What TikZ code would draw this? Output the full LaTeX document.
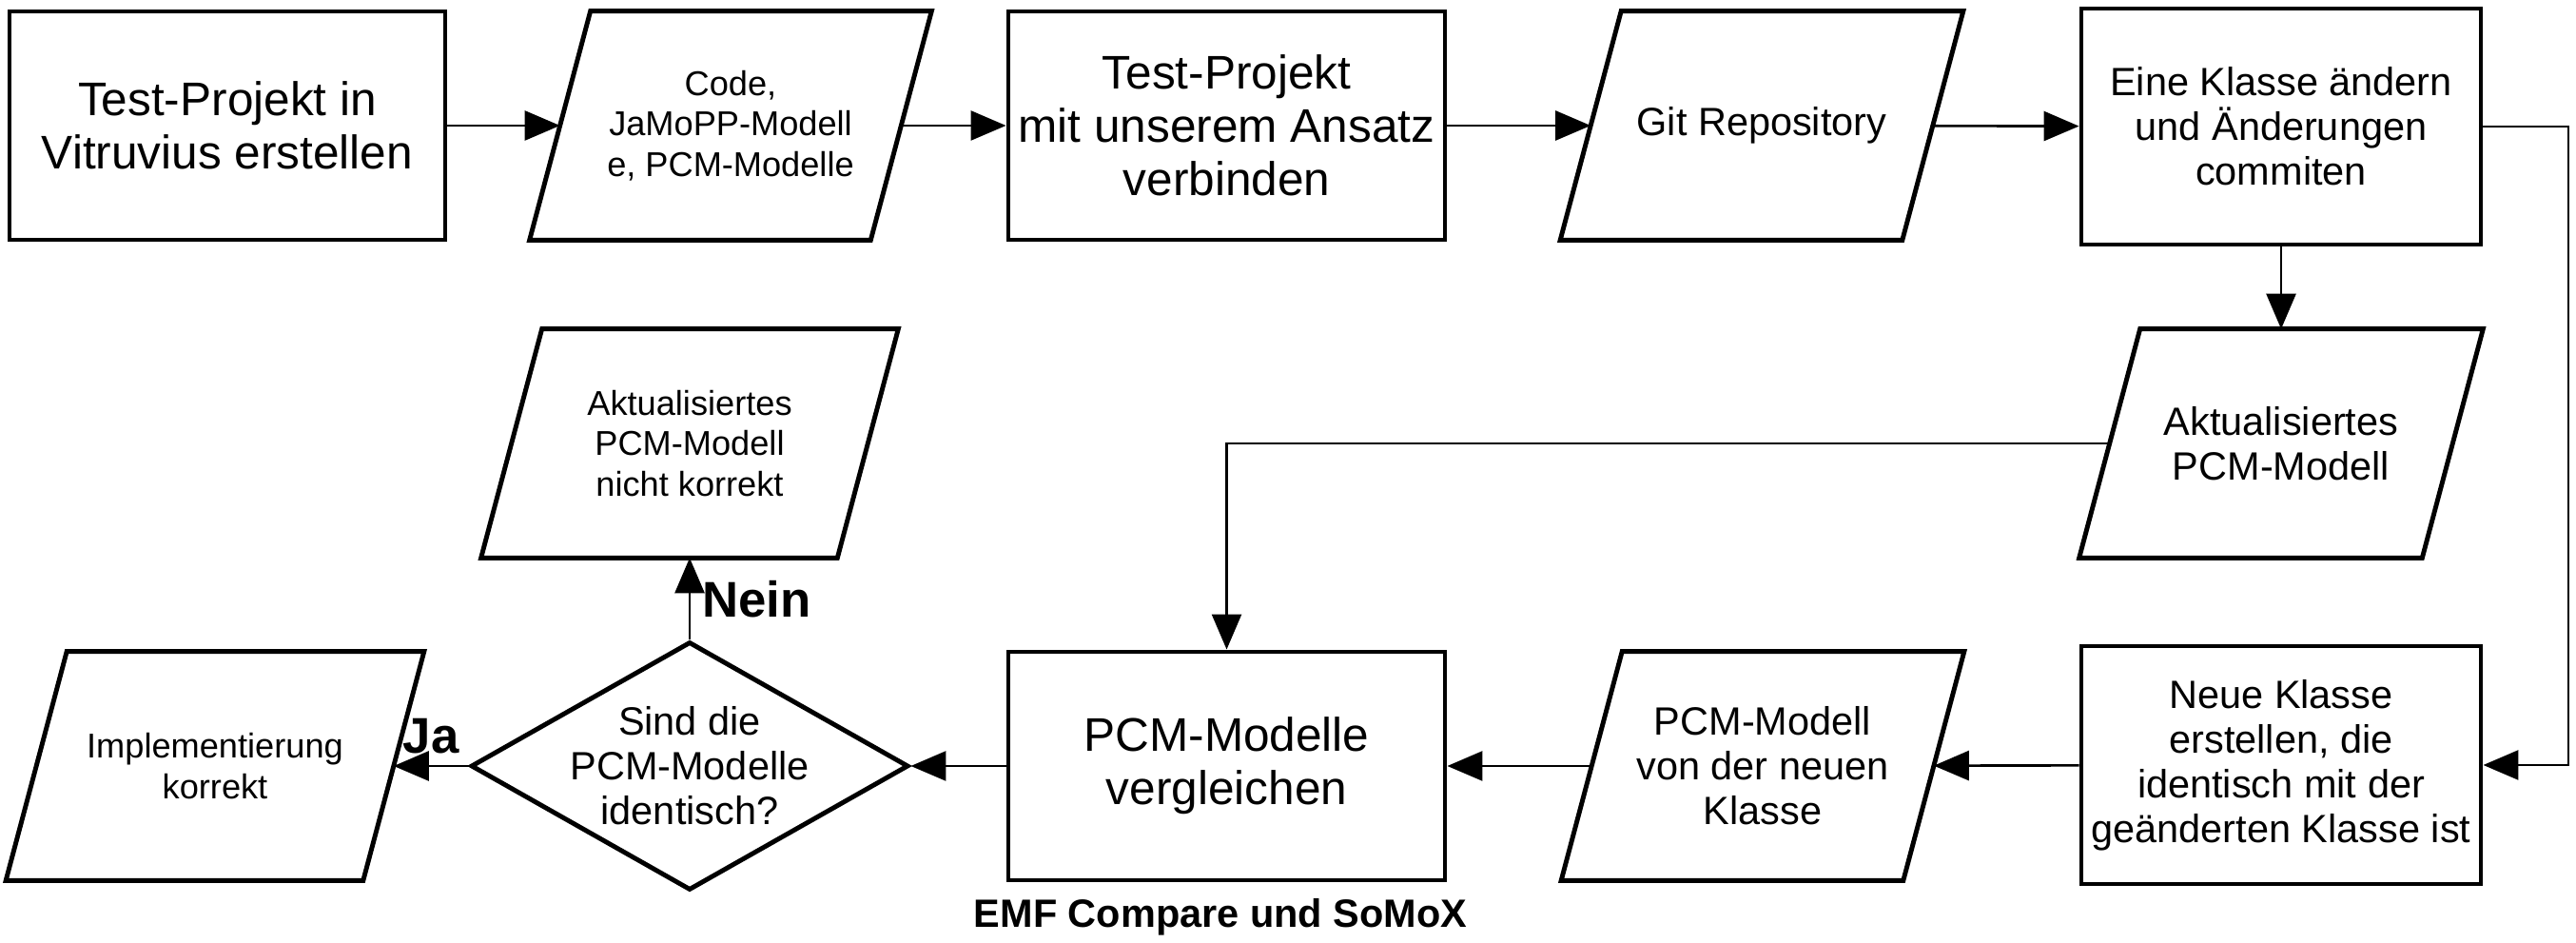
\documentclass[tikz,border=0pt]{standalone}
\usepackage{fontspec}
\setmainfont{Liberation Sans}
\usetikzlibrary{arrows.meta,shapes.geometric}

\begin{document}
\begin{tikzpicture}[
  process/.style={draw,line width=1.4pt,minimum width=4.59cm,minimum height=2.4cm,align=center,inner sep=1pt},
  io/.style={minimum width=3.57cm,minimum height=2.38cm,align=center,inner sep=1pt},
  border/.style={line width=1.4pt,line join=miter},
  decision/.style={draw,line width=1.4pt,diamond,aspect=1.76,minimum width=4.6cm,minimum height=2.61cm,align=center,inner sep=-.25mm},
  big/.style={font=\fontsize{14.1}{16}\selectfont},
  mid/.style={font=\fontsize{11.8}{13.4}\selectfont},
  small/.style={font=\fontsize{10.3}{12.1}\selectfont},
  answer/.style={font=\bfseries\fontsize{15}{17}\selectfont},
  every path/.style={line width=.75pt},
  >={Triangle[length=3.7mm,width=3.1mm]}
]
  \useasboundingbox (0,0) rectangle (27.08,9.91);

  \node[process,big,minimum width=4.58cm] (anlegen) at (2.39,8.59) {Test-Projekt in\\Vitruvius erstellen};
  \node[io,small,minimum width=3.56cm] (artefakte) at (7.68,8.59) {Code,\\JaMoPP-Modell\\e, PCM-Modelle};
  \node[process,big] (verbinden) at (12.895,8.59) {Test-Projekt\\mit unserem Ansatz\\verbinden};
  \node[io,mid] (repo) at (18.52,8.59) {Git Repository};
  \node[process,mid,minimum width=4.2cm,minimum height=2.48cm] (aendern) at (23.98,8.58) {Eine Klasse ändern\\und Änderungen\\commiten};
  \node[io,mid,minimum width=3.58cm] (aktpcm) at (23.98,5.25) {Aktualisiertes\\PCM-Modell};
  \node[process,mid,minimum width=4.2cm,minimum height=2.5cm] (neuklasse) at (23.98,1.87) {Neue Klasse\\erstellen, die\\identisch mit der\\geänderten Klasse ist};
  \node[io,mid] (neupcm) at (18.53,1.86) {PCM-Modell\\von der neuen\\Klasse};
  \node[process,big] (vergleich) at (12.895,1.86) {PCM-Modelle\\vergleichen};
  \node[decision,mid] (identisch) at (7.25,1.86) {Sind die\\PCM-Modelle\\identisch?};
  \node[io,small,minimum width=3.72cm] (fehler) at (7.25,5.25) {Aktualisiertes\\PCM-Modell\\nicht korrekt};
  \node[io,small,minimum width=3.73cm] (korrekt) at (2.26,1.86) {Implementierung\\korrekt};
  \node[font=\bfseries\fontsize{11.8}{13}\selectfont] (werkzeug) at (12.83,0.27) {EMF Compare und SoMoX};

  % slanted outlines of the data nodes
  \foreach \n in {artefakte,repo,aktpcm,neupcm,fehler,korrekt}
    \draw[border] ([xshift=-3.2mm]\n.south west) -- ([xshift=3.2mm]\n.north west)
      -- ([xshift=3.2mm]\n.north east) -- ([xshift=-3.2mm]\n.south east) -- cycle;

  \coordinate (rand) at (27.0,8.58);

  \draw[->] (anlegen) -- (artefakte);
  \draw[->] (artefakte) -- (verbinden);
  \draw[->] (verbinden) -- (repo);
  \draw[->] (repo) -- (aendern);
  \draw[->] (aendern) -- (aktpcm);
  \draw[->] (aendern.east) -- (rand) |- (neuklasse.east);
  \draw[->] (aktpcm.west) -| (vergleich.north);
  \draw[->] (neuklasse) -- (neupcm);
  \draw[->] (neupcm) -- (vergleich);
  \draw[->] (vergleich) -- (identisch);
  \draw[->] (identisch) -- node[above,answer] {Ja} (korrekt);
  \draw[->] (identisch) -- node[right,answer] {Nein} (fehler);
\end{tikzpicture}
\end{document}
